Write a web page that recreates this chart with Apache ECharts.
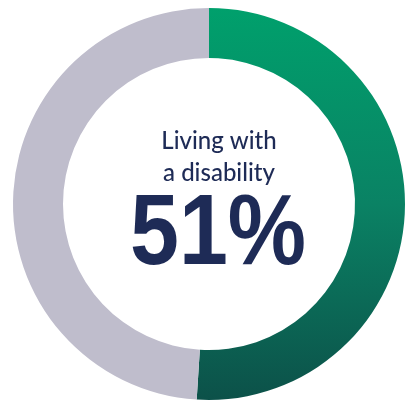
<!DOCTYPE html>
<html><head><meta charset="utf-8">
<script src="https://cdn.jsdelivr.net/npm/echarts@6/dist/echarts.min.js"></script>
<style>html,body{margin:0;padding:0;background:#fff}#c{width:405px;height:405px}</style>
</head><body><div id="c"></div>
<script>
const categories = ['Living with a disability', 'Other'];
const values = [51, 49];
const centerLabel = ['Living with', 'a disability'];
const bigLabel = '51%';

const chart = echarts.init(document.getElementById('c'), null, {renderer: 'canvas'});
chart.setOption({
  animation: false,
  series: [{
    type: 'pie',
    center: [209, 204],
    radius: [146, 196],
    startAngle: 90,
    clockwise: true,
    label: {show: false},
    labelLine: {show: false},
    silent: true,
    data: [
      {name: categories[0], value: values[0], itemStyle: {color: new echarts.graphic.LinearGradient(0, 0, 0, 1, [
        {offset: 0, color: '#00A06C'}, {offset: 0.5, color: '#0A8264'}, {offset: 1, color: '#0C5149'}])}},
      {name: categories[1], value: values[1], itemStyle: {color: '#BFBDCC'}}
    ]
  }],
  graphic: [
    {type: 'text', style: {text: centerLabel.join('\n'), font: '500 24px Lato', fill: '#1E2B56', align: 'center', lineHeight: 32}, position: [219, 125]},
    {type: 'text', style: {text: bigLabel, font: 'bold 100px "Liberation Sans"', fill: '#1E2B56', align: 'center', verticalAlign: 'middle'}, position: [218, 236], scaleX: 0.88}
  ]
});
</script></body></html>
